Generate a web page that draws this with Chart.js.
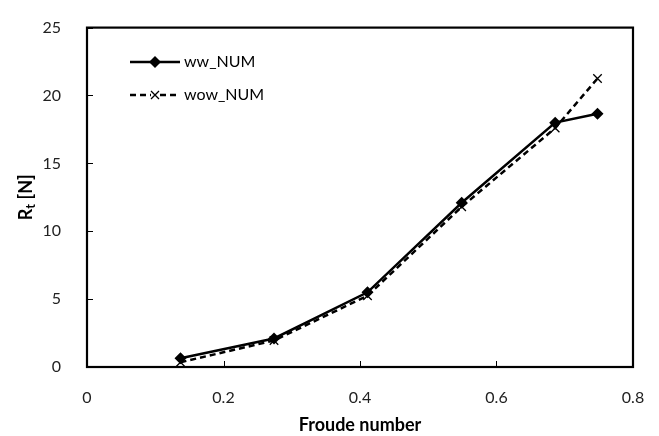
<!DOCTYPE html>
<html>
<head>
<meta charset="utf-8">
<script src="https://cdn.jsdelivr.net/npm/chart.js@4"></script>
<style>
  html, body { margin: 0; padding: 0; background: #fff; }
  #wrap { width: 659px; height: 436px; }
</style>
</head>
<body>
<div id="wrap"><canvas id="myChart"></canvas></div>
<script>
const froude = [0.137, 0.274, 0.411, 0.549, 0.686, 0.748];
const wwNum = [0.65, 2.1, 5.5, 12.1, 18.0, 18.65];
const wowNum = [0.35, 1.95, 5.25, 11.8, 17.6, 21.25];
const xTicks = [0, 0.2, 0.4, 0.6, 0.8];
const yTicks = [0, 5, 10, 15, 20, 25];
const seriesNames = ['ww_NUM', 'wow_NUM'];

const FONT = 'Lato, "Open Sans", sans-serif';

// frame, inward ticks, y title with subscript, legend inside plot
const extras = {
  id: 'extras',
  afterDraw(chart) {
    const ctx = chart.ctx;
    const a = chart.chartArea;
    const xs = chart.scales.x, ys = chart.scales.y;
    ctx.save();
    ctx.strokeStyle = '#000';
    ctx.lineWidth = 2.2;
    ctx.strokeRect(a.left, a.top, a.right - a.left, a.bottom - a.top);
    ctx.lineWidth = 1;
    ctx.beginPath();
    yTicks.forEach(v => {
      const y = Math.round(ys.getPixelForValue(v)) + 0.5;
      ctx.moveTo(a.left, y); ctx.lineTo(a.left + 6, y);
    });
    xTicks.forEach(v => {
      const x = Math.round(xs.getPixelForValue(v)) + 0.5;
      ctx.moveTo(x, a.bottom); ctx.lineTo(x, a.bottom - 6);
    });
    ctx.stroke();

    // y title
    ctx.translate(26, (a.top + a.bottom) / 2);
    ctx.rotate(-Math.PI / 2);
    ctx.fillStyle = '#000';
    ctx.textBaseline = 'middle';
    ctx.font = 'bold 18px ' + FONT;
    const w1 = ctx.measureText('R').width;
    ctx.font = 'bold 13px ' + FONT;
    const w2 = ctx.measureText('t').width;
    ctx.font = 'bold 18px ' + FONT;
    const w3 = ctx.measureText(' [N]').width;
    let sx = -(w1 + w2 + w3) / 2;
    ctx.textAlign = 'left';
    ctx.fillText('R', sx, 0);
    ctx.font = 'bold 13px ' + FONT;
    ctx.fillText('t', sx + w1, 5);
    ctx.font = 'bold 18px ' + FONT;
    ctx.fillText(' [N]', sx + w1 + w2, 0);
    ctx.restore();

    // legend
    ctx.save();
    const rows = [
      { name: seriesNames[0], dash: [], y: 62, marker: 'diamond' },
      { name: seriesNames[1], dash: [6, 4], y: 95, marker: 'cross' }
    ];
    rows.forEach(r => {
      ctx.strokeStyle = '#000';
      ctx.lineWidth = 2.5;
      ctx.setLineDash(r.dash);
      ctx.beginPath();
      ctx.moveTo(130, r.y); ctx.lineTo(180, r.y);
      ctx.stroke();
      ctx.setLineDash([]);
      if (r.marker === 'diamond') {
        ctx.fillStyle = '#000';
        ctx.beginPath();
        ctx.moveTo(155, r.y - 6); ctx.lineTo(161, r.y);
        ctx.lineTo(155, r.y + 6); ctx.lineTo(149, r.y);
        ctx.closePath(); ctx.fill();
      } else {
        ctx.fillStyle = '#fff';
        ctx.fillRect(151, r.y - 4, 8, 8);
        ctx.lineWidth = 1.3;
        ctx.beginPath();
        ctx.moveTo(151, r.y - 4); ctx.lineTo(159, r.y + 4);
        ctx.moveTo(159, r.y - 4); ctx.lineTo(151, r.y + 4);
        ctx.stroke();
      }
      ctx.fillStyle = '#000';
      ctx.font = '16px ' + FONT;
      ctx.textAlign = 'left';
      ctx.textBaseline = 'middle';
      ctx.fillText(r.name, 184, r.y);
    });
    ctx.restore();
  }
};

const data = {
  datasets: [{
    label: seriesNames[0],
    data: froude.map((f, i) => ({ x: f, y: wwNum[i] })),
    borderColor: '#000',
    backgroundColor: '#000',
    borderWidth: 2.5,
    pointStyle: 'rectRot',
    pointRadius: 6,
    pointBorderWidth: 0,
    order: 1
  }, {
    label: seriesNames[1],
    data: froude.map((f, i) => ({ x: f, y: wowNum[i] })),
    borderColor: '#000',
    backgroundColor: '#000',
    borderWidth: 2.5,
    borderDash: [6, 4],
    pointStyle: 'crossRot',
    pointRadius: 6,
    pointBorderWidth: 1.3,
    order: 2
  }]
};

const config = {
  type: 'line',
  data,
  options: {
    responsive: true,
    maintainAspectRatio: false,
    animation: false,
    layout: { padding: { left: 0, top: 14, right: 26, bottom: 0 } },
    plugins: {
      legend: { display: false },
      tooltip: { enabled: false }
    },
    scales: {
      x: {
        type: 'linear',
        min: 0, max: 0.8,
        afterBuildTicks: s => { s.ticks = xTicks.map(v => ({ value: v })); },
        afterFit: s => { s.height = 69; },
        grid: { display: false },
        border: { display: false },
        ticks: {
          color: '#222',
          padding: 13,
          font: { family: FONT, size: 16 },
          callback: v => String(v)
        },
        title: {
          display: true,
          text: 'Froude number',
          color: '#000',
          font: { family: FONT, size: 18, weight: 'bold' },
          padding: { top: 4, bottom: 0 }
        }
      },
      y: {
        min: 0, max: 25,
        afterBuildTicks: s => { s.ticks = yTicks.map(v => ({ value: v })); },
        afterFit: s => { s.width = 87; },
        grid: { display: false },
        border: { display: false },
        ticks: {
          color: '#222',
          padding: 18,
          font: { family: FONT, size: 16 }
        }
      }
    }
  },
  plugins: [extras]
};

const myChart = new Chart(document.getElementById('myChart'), config);
</script>
</body>
</html>
